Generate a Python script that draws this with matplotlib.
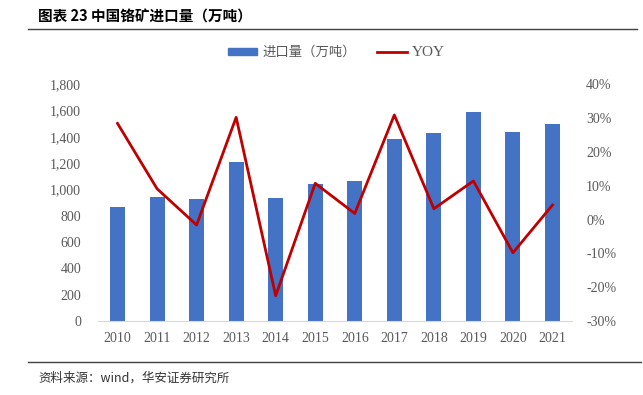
import matplotlib.pyplot as plt
from matplotlib.lines import Line2D

plt.rcParams['font.family'] = ['Noto Sans CJK SC', 'DejaVu Sans']

years = ['2010', '2011', '2012', '2013', '2014', '2015', '2016', '2017', '2018', '2019', '2020', '2021']
imports = [866, 944, 929, 1210, 939, 1040, 1061, 1387, 1428, 1592, 1433, 1496]
yoy = [28.4, 9.1, -1.6, 30.2, -22.5, 10.7, 1.8, 30.9, 3.2, 11.4, -9.8, 4.3]

fig = plt.figure(figsize=(6.43, 3.95), dpi=100)
ax = fig.add_axes([0.152, 0.187, 0.738, 0.600])
ax2 = ax.twinx()

x = range(len(years))
bars = ax.bar(x, imports, width=0.38, color='#4472C4', zorder=2)
line, = ax2.plot(x, yoy, color='#C00000', lw=2, zorder=3)

ax.set_xlim(-0.5, len(years) - 0.5)
ax.set_ylim(0, 1800)
ax.set_yticks(range(0, 1801, 200))
ax.set_yticklabels([f'{v:,}' for v in range(0, 1801, 200)])
ax2.set_ylim(-30, 40)
ax2.set_yticks(range(-30, 41, 10))
ax2.set_yticklabels([f'{v}%' for v in range(-30, 41, 10)])
ax.set_xticks(list(x))
ax.set_xticklabels(years)

for a in (ax, ax2):
    for s in a.spines.values():
        s.set_visible(False)
    a.tick_params(length=0, labelsize=10, labelcolor='#595959')
    for lab in a.get_yticklabels() + a.get_xticklabels():
        lab.set_fontfamily('Liberation Serif')
ax.spines['bottom'].set_visible(True)
ax.spines['bottom'].set_color('#D9D9D9')
ax.tick_params(axis='x', pad=8)
ax.tick_params(axis='y', pad=12)
ax2.tick_params(axis='y', pad=10)
ax2.set_zorder(ax.get_zorder() + 1)
ax2.patch.set_visible(False)

handles = [plt.Rectangle((0, 0), 1, 1, color='#4472C4'), Line2D([0], [0], color='#C00000', lw=2)]
leg = fig.legend(handles, ['进口量（万吨）', 'YOY'], loc='center', bbox_to_anchor=(0.523, 0.868),
                 ncol=2, frameon=False, fontsize=9.6, handlelength=2.2, handleheight=0.5,
                 columnspacing=1.6, handletextpad=0.4, borderpad=0)
for t in leg.get_texts():
    t.set_color('#595959')
leg.get_texts()[1].set_fontfamily('Liberation Serif')
leg.get_texts()[1].set_fontsize(11)

fig.text(0.059, 0.957, '图表 23 中国铬矿进口量（万吨）', fontsize=10.5, fontweight='bold',
         va='center', ha='left', color='#000000')
fig.add_artist(Line2D([0.044, 0.99], [0.927, 0.927], color='#404040', lw=1))
fig.add_artist(Line2D([0.044, 0.997], [0.084, 0.084], color='#404040', lw=1))
fig.text(0.059, 0.043, '资料来源：wind，华安证券研究所', fontsize=9, va='center', ha='left', color='#333333')

fig.savefig('out.png', dpi=100)
